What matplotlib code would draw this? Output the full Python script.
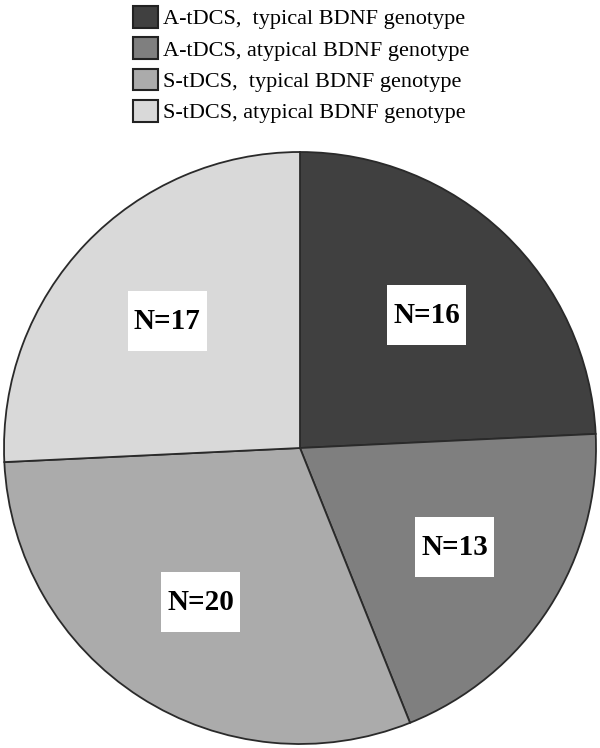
import numpy as np
import matplotlib.pyplot as plt
from matplotlib.patches import Patch, Rectangle

# groups and counts
groups = ["A-tDCS,  typical BDNF genotype",
          "A-tDCS, atypical BDNF genotype",
          "S-tDCS,  typical BDNF genotype",
          "S-tDCS, atypical BDNF genotype"]
counts = [16, 13, 20, 17]
shades = ["#404040", "#7f7f7f", "#ababab", "#d9d9d9"]

plt.rcParams['font.family'] = ['Liberation Serif', 'DejaVu Serif']

fig = plt.figure(figsize=(6, 7.48), dpi=100)
ax = fig.add_axes([4/600, 4/748, 592/600, 592/748])

wedges, _ = ax.pie(counts, colors=shades, startangle=90, counterclock=False,
                   wedgeprops=dict(edgecolor="#2a2a2a", linewidth=1.3))
ax.set_xlim(-1, 1)
ax.set_ylim(-1, 1)
ax.set_aspect('equal')
ax.axis('off')

# white label boxes at ~0.62 of the radius
bw, bh = 79/296, 60/296
for w, n in zip(wedges, counts):
    ang = np.deg2rad((w.theta1 + w.theta2) / 2)
    x, y = 0.62*np.cos(ang), 0.62*np.sin(ang)
    ax.add_patch(Rectangle((x - bw/2, y - bh/2), bw, bh, facecolor="white",
                           edgecolor="none", zorder=3))
    ax.text(x, y, "N=%d" % n, ha="center", va="center", fontsize=21,
            fontweight="bold", zorder=4)

handles = [Patch(facecolor=c, edgecolor="#222222", linewidth=1.5) for c in shades]
fig.legend(handles, groups, loc="upper left", bbox_to_anchor=(133/600, 1 - 6/748),
           frameon=False, fontsize=16, borderpad=0, borderaxespad=0,
           handlelength=1.12, handleheight=1.12, labelspacing=0.36,
           handletextpad=0.25)

fig.savefig("out.png", dpi=100)
